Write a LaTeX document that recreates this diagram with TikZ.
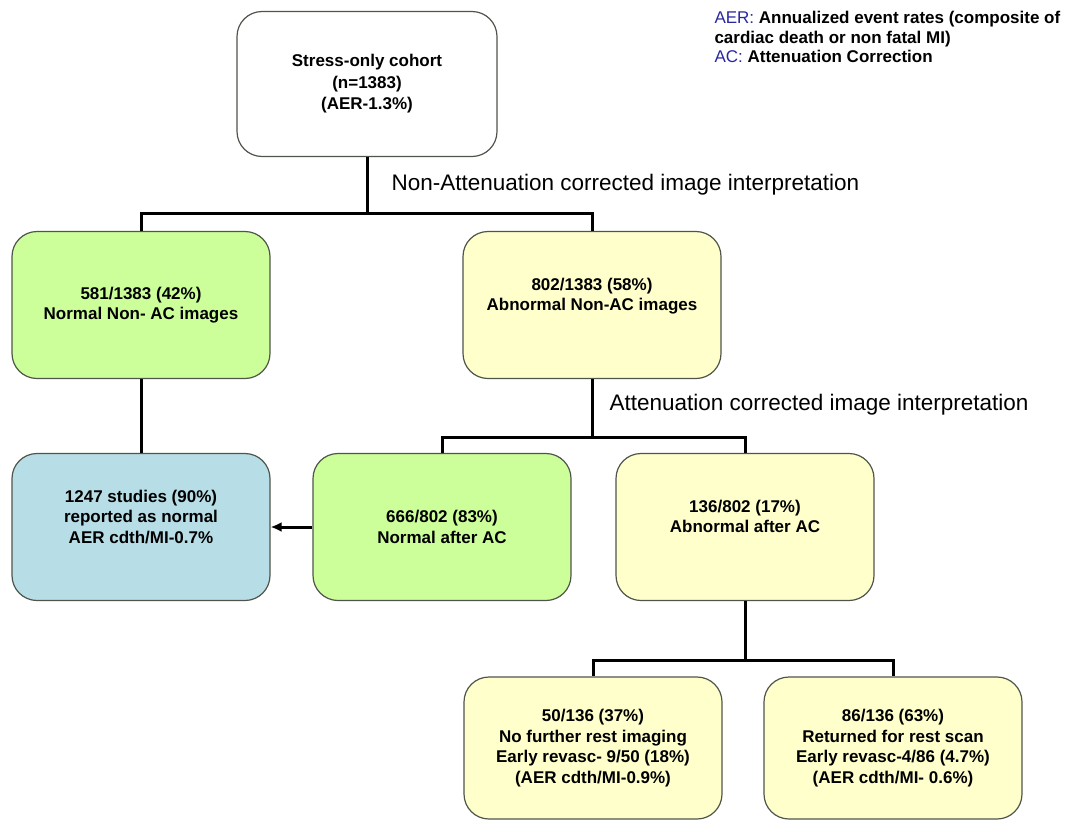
\documentclass[tikz,border=0pt]{standalone}
\usepackage{fontspec}
\setmainfont{Liberation Sans}
\usetikzlibrary{arrows.meta}
\definecolor{boxgreen}{RGB}{204,255,153}
\definecolor{boxyellow}{RGB}{255,255,204}
\definecolor{boxblue}{RGB}{183,222,230}
\definecolor{boxline}{RGB}{80,85,75}
\definecolor{keyblue}{RGB}{40,40,160}
\begin{document}
\begin{tikzpicture}[x=1pt,y=-1pt,
  every node/.style={font=\bfseries\fontsize{17}{20.5}\selectfont,align=center},
  box/.style={draw=boxline,line width=1.2pt,rounded corners=25pt,minimum width=258pt,minimum height=147pt,inner sep=0pt},
  lift/.style={execute at end node={\rule[-21pt]{0pt}{21pt}}},
  steplabel/.style={anchor=west,font=\fontsize{22.5}{26}\selectfont},
  link/.style={line width=3pt}]
\useasboundingbox (0,0) rectangle (1071,822);
% boxes
\node[box,fill=white,minimum width=260pt,minimum height=145pt,font=\bfseries\fontsize{17}{21.5}\selectfont] (cohort) at (367,84) {Stress-only cohort\\(n=1383)\\(AER-1.3\%)};
\node[box,fill=boxgreen] (normnac) at (141,305) {581/1383 (42\%)\\Normal Non- AC images};
\node[box,fill=boxyellow,lift] (abnnac) at (592,305) {802/1383 (58\%)\\Abnormal Non-AC images};
\node[box,fill=boxblue,lift] (normal) at (141,527) {1247 studies (90\%)\\reported as normal\\AER cdth/MI-0.7\%};
\node[box,fill=boxgreen] (normac) at (442,527) {666/802 (83\%)\\Normal after AC};
\node[box,fill=boxyellow,lift] (abnac) at (745,527) {136/802 (17\%)\\Abnormal after AC};
\node[box,fill=boxyellow,minimum height=142pt] (norest) at (593,748) {50/136 (37\%)\\No further rest imaging\\Early revasc- 9/50 (18\%)\\(AER cdth/MI-0.9\%)};
\node[box,fill=boxyellow,minimum height=142pt] (rest) at (893,748) {86/136 (63\%)\\Returned for rest scan\\Early revasc-4/86 (4.7\%)\\(AER cdth/MI- 0.6\%)};
% labels
\node[steplabel] (nacl) at (388,185) {Non-Attenuation corrected image interpretation};
\node[steplabel] (acl) at (606,405) {Attenuation corrected image interpretation};
\node[anchor=north west,align=left,font=\bfseries\fontsize{17}{19.5}\selectfont] (key) at (711,8)
  {\textcolor{keyblue}{\mdseries AER:} Annualized event rates (composite of\\cardiac death or non fatal MI)\\\textcolor{keyblue}{\mdseries AC:} Attenuation Correction};
% connectors
\path (cohort.south) ++(0,56) coordinate (bar1);
\path (abnnac.south) ++(0,58) coordinate (bar2);
\path (abnac.south) ++(0,59) coordinate (bar3);
\draw[link] (cohort.south) -- (bar1) -| (normnac.north);
\draw[link] (bar1) -| (abnnac.north);
\draw[link] (abnnac.south) -- (bar2) -| (normac.north);
\draw[link] (bar2) -| (abnac.north);
\draw[link] (abnac.south) -- (bar3) -| (norest.north);
\draw[link] (bar3) -| (rest.north);
\draw[link] (normnac.south) -- (normal.north);
\draw[link,-{Latex[length=11pt,width=10pt]}] (normac.west) -- (normal.east);
\end{tikzpicture}
\end{document}
